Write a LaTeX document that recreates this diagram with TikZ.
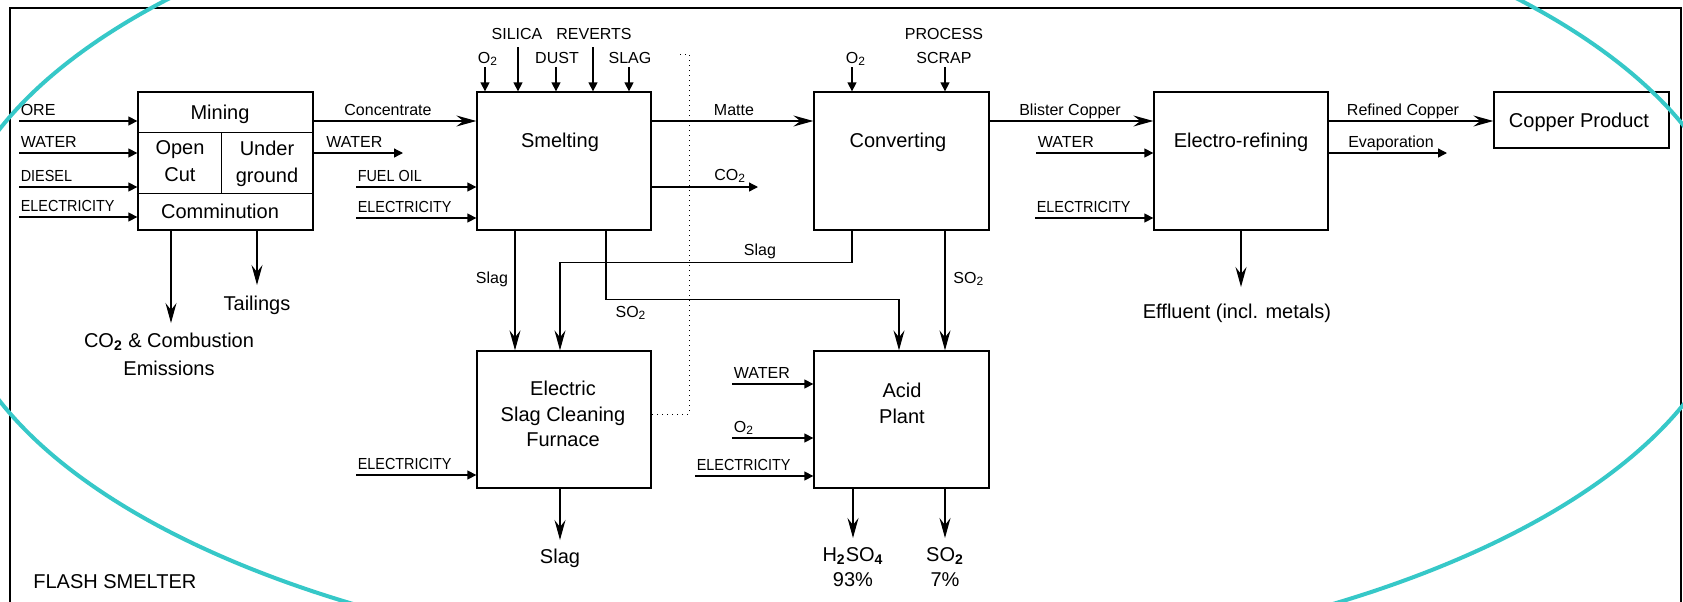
\documentclass[tikz,border=0pt]{standalone}
\usepackage{fontspec}
\setmainfont{Liberation Sans}
\usepackage{graphicx}
\usetikzlibrary{arrows.meta}
\definecolor{turq}{RGB}{54,200,200}
\newcommand{\condtxt}[1]{\scalebox{0.9}[1]{#1}}
\tikzset{
  procbox/.style={draw, line width=0.65pt, inner sep=0pt, minimum width=87.5pt, minimum height=69pt},
  txt/.style={inner sep=0pt, align=center, font=\fontsize{10}{12.75}\selectfont},
  lbl/.style={inner sep=0pt, align=center, font=\fontsize{8}{12}\selectfont},
  feed/.style={line width=0.65pt, -{Triangle[length=4.5pt, width=4.5pt]}},
  flow/.style={line width=0.65pt, -{Stealth[length=10pt, width=5.5pt, inset=3.5pt]}},
}
\begin{document}
\begin{tikzpicture}[x=0.5pt, y=-0.5pt]
    \useasboundingbox (0,0) rectangle (1683,601);
    \fill[white] (0,0) rectangle (1683,601);
    % Marco
    \draw[line width=1.3pt] (10,8) rectangle (1681,640);

    % Cajas
    \node[procbox] (mining) at (225.5,161) {};
    \node[procbox, minimum width=87pt] (smelt) at (564,161) {};
    \node[procbox] (conv) at (901.5,161) {};
    \node[procbox, minimum width=87pt] (refine) at (1241,161) {};
    \node[procbox, minimum height=28pt] (product) at (1581.5,120) {};
    \node[procbox, minimum width=87pt, minimum height=68.5pt] (escf) at (564,419.5) {};
    \node[procbox, minimum height=68.5pt] (acid) at (901.5,419.5) {};
    \draw[line width=0.65pt] ([yshift=-20.5pt]mining.north west) -- ([yshift=-20.5pt]mining.north east)
        ([yshift=18.5pt]mining.south west) -- ([yshift=18.5pt]mining.south east)
        ([xshift=42pt,yshift=-20.5pt]mining.north west) -- ([xshift=42pt,yshift=18.5pt]mining.south west);

    % Textos de las cajas
    \node[txt, anchor=base] (tMining) at (220,119) {Mining};
    \node[txt, font=\fontsize{10}{13.5}\selectfont] (tOpen) at (180,161) {Open\\Cut};
    \node[txt, font=\fontsize{10}{13.5}\selectfont] (tUnder) at (267,164) {Under\\ground};
    \node[txt, anchor=base] (tComm) at (220,218) {Comminution};
    \node[txt, anchor=base] (tSmelt) at (560,147) {Smelting};
    \node[txt, anchor=base] (tConv) at (898,147) {Converting};
    \node[txt, anchor=base] (tRefine) at (1241,147) {Electro-refining};
    \node[txt, anchor=base] (tProduct) at (1579,127) {Copper Product};
    \node[txt] (tEscf) at (563,414) {Electric\\Slag Cleaning\\Furnace};
    \node[txt, font=\fontsize{10}{13}\selectfont] (tAcid) at (902,403) {Acid\\Plant};

    % Entradas por la izquierda
    \foreach \x/\y/\b/\t [count=\i] in {19/121/mining/ORE,19/153/mining/WATER,19/187/mining/\condtxt{DIESEL},19/217/mining/\condtxt{ELECTRICITY},
        356/187/smelt/\condtxt{FUEL OIL},356/218/smelt/\condtxt{ELECTRICITY},356/475/escf/\condtxt{ELECTRICITY},
        732/384/acid/WATER,732/438/acid/O\textsubscript{2},695/476/acid/\condtxt{ELECTRICITY},
        1036/153/refine/WATER,1035/218/refine/\condtxt{ELECTRICITY}} {
        \coordinate (in\i) at (\x,\y);
        \draw[feed] (in\i) -- (in\i -| \b.west);
        \node[lbl, anchor=base west] (tin\i) at ([xshift=0.7pt, yshift=3pt]in\i) {\t};
    }

    % Entradas por arriba
    \foreach \x/\y/\b/\lx/\ly/\t [count=\i] in {485/67/smelt/488/63/O\textsubscript{2},518/47/smelt/517/39/SILICA,
        556/67/smelt/557/63/DUST,593/47/smelt/594/39/REVERTS,629/67/smelt/630/63/SLAG,
        852/67/conv/856/63/O\textsubscript{2},945/67/conv/944/63/SCRAP} {
        \coordinate (top\i) at (\x,\y);
        \draw[feed] (top\i) -- (top\i |- \b.north);
        \node[lbl, anchor=base] (ttop\i) at (\lx,\ly) {\t};
    }
    \node[lbl, anchor=base] (tProcess) at (944,39) {PROCESS};

    % Flujos principales
    \draw[flow] ([yshift=20pt]mining.east) -- ([yshift=20pt]smelt.west);
    \draw[flow] ([yshift=20pt]smelt.east) -- ([yshift=20pt]conv.west);
    \draw[flow] ([yshift=20pt]conv.east) -- ([yshift=20pt]refine.west);
    \coordinate (rc) at ([yshift=20pt]refine.east);
    \draw[flow] (rc) -- (rc -| product.west);
    \draw[flow] ([xshift=-24.5pt]smelt.south) -- ([xshift=-24.5pt]escf.north);
    \draw[flow] ([xshift=21pt]smelt.south) -- ++(0,69) -| ([xshift=-1.25pt]acid.north);
    \draw[flow] ([xshift=-24.75pt]conv.south) -- ++(0,32) -| ([xshift=-2pt]escf.north);
    \draw[flow] ([xshift=21.75pt]conv.south) -- ([xshift=21.75pt]acid.north);
    \draw[dotted, line width=0.5pt] (680,54) coordinate (dA) -- (689,54) -- (689,414) coordinate (dB) -- (dB -| escf.east);

    % Salidas
    \coordinate (wOut) at (403,153);
    \coordinate (co2Out) at (758,187);
    \coordinate (evap) at (1447,153);
    \draw[feed] (wOut -| mining.east) -- (wOut);
    \draw[feed] (co2Out -| smelt.east) -- (co2Out);
    \draw[feed] (evap -| refine.east) -- (evap);
    \coordinate (emis) at (171,323);
    \coordinate (tail) at (257,285);
    \coordinate (slagOut) at (560,540);
    \coordinate (acidOut) at (853,538);
    \coordinate (so2Out) at (945,538);
    \coordinate (effl) at (1241,287);
    \draw[flow] (emis |- mining.south) -- (emis);
    \draw[flow] (tail |- mining.south) -- (tail);
    \draw[flow] (slagOut |- escf.south) -- (slagOut);
    \draw[flow] (acidOut |- acid.south) -- (acidOut);
    \draw[flow] (so2Out |- acid.south) -- (so2Out);
    \draw[flow] (refine.south) -- (effl);

    % Etiquetas de flujos
    \node[lbl, anchor=base] (tConc) at (388,115) {Concentrate};
    \node[lbl, anchor=base west] (tWat) at (326,147) {WATER};
    \node[lbl, anchor=base] (tMatte) at (734,115) {Matte};
    \node[lbl, anchor=base west] (tCO2) at (714,180) {CO\textsubscript{2}};
    \node[lbl, anchor=base] (tBlister) at (1070,115) {Blister Copper};
    \node[lbl, anchor=base] (tRefined) at (1403,115) {Refined Copper};
    \node[lbl, anchor=base] (tEvap) at (1391,147) {Evaporation};
    \node[lbl, anchor=base] (tSlagA) at (492,283) {Slag};
    \node[lbl, anchor=base] (tSO2a) at (631,317) {SO\textsubscript{2}};
    \node[lbl, anchor=base] (tSlagB) at (760,255) {Slag};
    \node[lbl, anchor=base west] (tSO2b) at (953,283) {SO\textsubscript{2}};

    % Productos
    \node[txt, font=\fontsize{10}{14}\selectfont] (tEmis) at (169,354) {CO\textsubscript{\textbf{2}} \& Combustion\\Emissions};
    \node[txt, anchor=base] (tTail) at (257,310) {Tailings};
    \node[txt, anchor=base] (tSlagOut) at (560,563) {Slag};
    \node[txt, font=\fontsize{10}{12.5}\selectfont] (tH2SO4) at (853,567.5) {H\textsubscript{\textbf{2}}SO\textsubscript{\textbf{4}}\\93\%};
    \node[txt, font=\fontsize{10}{12.5}\selectfont] (tSO2c) at (945,567.5) {SO\textsubscript{\textbf{2}}\\7\%};
    \node[txt, anchor=base] (tEffl) at (1237,318) {Effluent (incl. metals)};
    \node[txt, anchor=base west] (tFlash) at (33,588) {FLASH SMELTER};

    % Elipse
    \draw[turq, line width=2pt] (843,265) ellipse [x radius=895, y radius=405];
\end{tikzpicture}
\end{document}
